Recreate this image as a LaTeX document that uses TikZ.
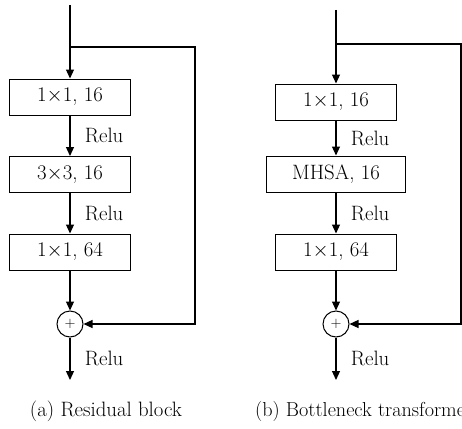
\documentclass[tikz,border=0pt]{standalone}
\usetikzlibrary{arrows.meta}
\tikzset{
  lbl/.style={font=\fontsize{20.8}{24}\selectfont},
  blk/.style={draw,line width=1pt,minimum width=121pt,minimum height=36pt,inner sep=0pt,lbl},
  addop/.style={draw,circle,line width=1pt,minimum size=26pt,inner sep=0pt,font=\fontsize{15}{17}\selectfont},
  arr/.style={line width=1.2pt,-{Triangle[length=9pt,width=8pt]}},
  ln/.style={line width=1.2pt},
  relu/.style={lbl,anchor=west,xshift=11pt}
}
\begin{document}
\begin{tikzpicture}[x=1pt,y=-1pt]
  \useasboundingbox (0,0) rectangle (462,428);
  \clip (0,0) rectangle (462,428);
  \coordinate (ain) at (70,5);
  \coordinate (asplit) at (70,47);
  \coordinate (acorner) at (195,47);
  \node[blk] (a1) at (70,97) {1$\times$1, 16};
  \node[blk] (a2) at (70,174.5) {3$\times$3, 16};
  \node[blk] (a3) at (70,252) {1$\times$1, 64};
  \node[addop] (aadd) at (70,324) {$+$};
  \coordinate (aout) at (70,380);
  \draw[ln] (ain) -- (asplit);
  \draw[arr] (asplit) -- (a1);
  \draw[arr] (a1) -- node[relu] {Relu} (a2);
  \draw[arr] (a2) -- node[relu] {Relu} (a3);
  \draw[arr] (a3) -- (aadd);
  \draw[arr] (aadd) -- node[relu] {Relu} (aout);
  \draw[arr] (asplit) -- (acorner) |- (aadd);
  \node[lbl] (acap) at (106,411) {(a) Residual block};
  \coordinate (bin) at (336,10);
  \coordinate (bsplit) at (336,44);
  \coordinate (bcorner) at (461,44);
  \node[blk] (b1) at (336,102) {1$\times$1, 16};
  \node[blk,minimum width=139pt] (b2) at (336,174) {MHSA, 16};
  \node[blk] (b3) at (336,252) {1$\times$1, 64};
  \node[addop] (badd) at (336,324) {$+$};
  \coordinate (bout) at (336,380);
  \draw[ln] (bin) -- (bsplit);
  \draw[arr] (bsplit) -- (b1);
  \draw[arr] (b1) -- node[relu] {Relu} (b2);
  \draw[arr] (b2) -- node[relu] {Relu} (b3);
  \draw[arr] (b3) -- (badd);
  \draw[arr] (badd) -- node[relu] {Relu} (bout);
  \draw[arr] (bsplit) -- (bcorner) |- (badd);
  \node[lbl,anchor=west,font=\fontsize{20.2}{24}\selectfont,inner sep=0pt] (bcap) at (255,411) {(b) Bottleneck transformer};
\end{tikzpicture}
\end{document}
